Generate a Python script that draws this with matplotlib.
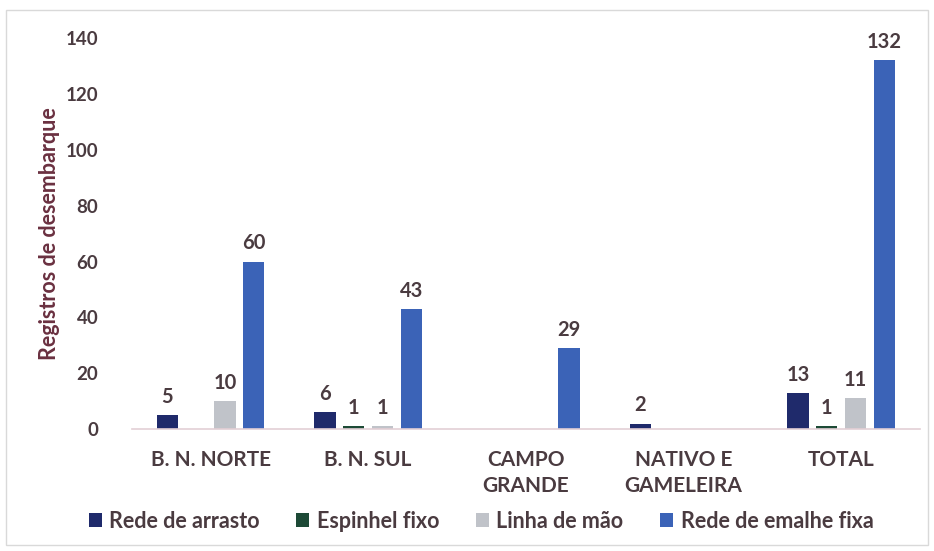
import matplotlib
matplotlib.use('Agg')
import matplotlib.pyplot as plt
import numpy as np
from matplotlib.patches import Rectangle

plt.rcParams['font.family'] = ['Lato', 'DejaVu Sans']
plt.rcParams['font.weight'] = 'bold'

# Data
categories = ['B. N. NORTE', 'B. N. SUL', 'CAMPO\nGRANDE', 'NATIVO E\nGAMELEIRA', 'TOTAL']
series_names = ['Rede de arrasto', 'Espinhel fixo', 'Linha de mão', 'Rede de emalhe fixa']
rede_arrasto = [5, 6, 0, 2, 13]
espinhel_fixo = [0, 1, 0, 0, 1]
linha_mao = [10, 1, 0, 0, 11]
rede_emalhe = [60, 43, 29, 0, 132]

series = [rede_arrasto, espinhel_fixo, linha_mao, rede_emalhe]
colors = ['#1f2a6b', '#1d4a36', '#c0c3c9', '#3b63b7']
text_color = '#4a3b40'

fig = plt.figure(figsize=(9.34, 5.51), dpi=100)
ax = fig.add_axes([0.141, 0.221, 0.844, 0.710])

x = np.arange(len(categories))
step = 0.182
width = 0.135
for i, (vals, col, name) in enumerate(zip(series, colors, series_names)):
    pos = x + (i - 1.5) * step
    bars = ax.bar(pos, vals, width=width, color=col, label=name, zorder=2)
    for b, v in zip(bars, vals):
        if v > 0:
            ax.text(b.get_x() + b.get_width() / 2, v + 3, str(v),
                    ha='center', va='bottom', fontsize=14.5,
                    fontweight='bold', color=text_color)

ax.set_xlim(-0.5, 4.5)
ax.set_ylim(0, 140)
ax.set_yticks(range(0, 141, 20))
ax.set_xticks(x)
ax.set_xticklabels(categories, fontsize=15, color=text_color, linespacing=1.35)
ax.tick_params(axis='y', length=0, pad=24, labelsize=13.5, labelcolor=text_color)
ax.tick_params(axis='x', length=0, pad=15)
for s in ['top', 'right', 'left']:
    ax.spines[s].set_visible(False)
ax.spines['bottom'].set_color('#e3cfd5')
ax.spines['bottom'].set_linewidth(1.2)

ax.set_ylabel('Registros de desembarque', fontsize=15.5, color='#6a3040',
              fontweight='bold', labelpad=4)

leg = fig.legend(loc='center', bbox_to_anchor=(0.515, 0.054), ncol=4,
                 frameon=False, fontsize=15.5, handlelength=0.6, handleheight=0.6,
                 handletextpad=0.35, columnspacing=1.7)
for t in leg.get_texts():
    t.set_color(text_color)

# light border around the whole chart
fig.patches.append(Rectangle((0.006, 0.01), 0.988, 0.972, transform=fig.transFigure,
                             fill=False, edgecolor='#d9d9d9', linewidth=1))

fig.savefig('out.png', dpi=100)
